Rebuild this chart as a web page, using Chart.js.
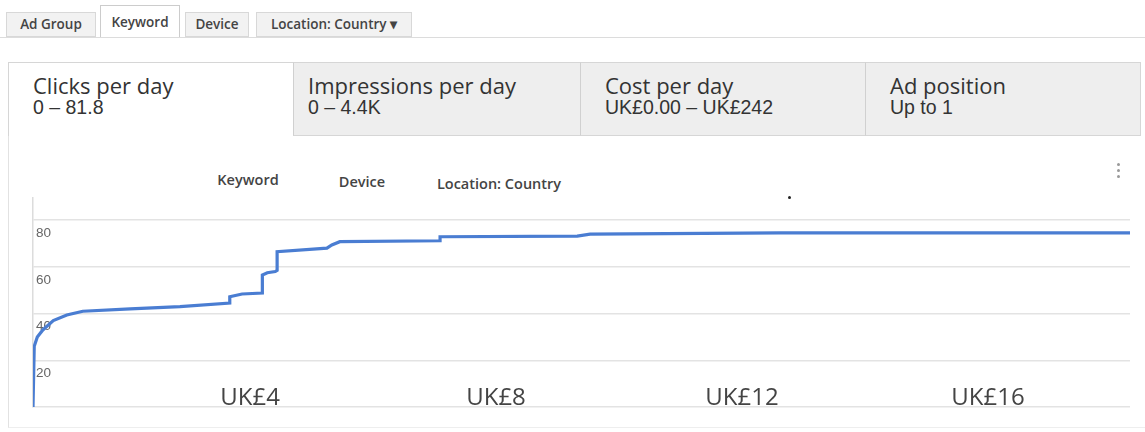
<!DOCTYPE html>
<html>
<head>
<meta charset="utf-8">
<script src="https://cdn.jsdelivr.net/npm/chart.js@4"></script>
<style>
  html, body { margin:0; padding:0; background:#fff; }
  body { width:1145px; height:432px; position:relative; overflow:hidden; font-family:"Open Sans", sans-serif; }
  .tab { position:absolute; top:12px; height:25px; background:#f2f2f2; border:1px solid #d8d8d8; box-sizing:border-box;
         font-size:13.5px; font-weight:600; color:#444; line-height:23px; text-align:center; white-space:nowrap; }
  .tab.sel { top:5px; height:33px; background:#fff; border-bottom:none; line-height:33px; border-color:#ccc; }
  #tabline { position:absolute; left:0; top:37px; width:1145px; height:1px; background:#dcdcdc; }
  #outer { position:absolute; left:8px; top:62px; width:1140px; height:366px; border-left:1px solid #e2e2e2; border-bottom:1px solid #eeeeee; box-sizing:border-box; }
  .mt { position:absolute; top:62px; height:74px; box-sizing:border-box; border-top:1px solid #d6d6d6; }
  .mt.g { background:#eeeeee; border-left:1px solid #d0d0d0; border-bottom:1px solid #d6d6d6; }
  .mt .t { position:absolute; left:14px; top:9px; font-family:"Open Sans", sans-serif; font-size:22px; color:#333; white-space:nowrap; line-height:26px; }
  .mt .s { position:absolute; left:14px; top:33px; font-family:"Liberation Sans", Arial, sans-serif; font-size:19.5px; color:#333; white-space:nowrap; line-height:22px; }
  .lbl { position:absolute; font-size:14.5px; font-weight:600; color:#444; transform:translateX(-50%); white-space:nowrap; }
  #chartbox { position:absolute; left:0; top:150px; width:1145px; height:275px; }
</style>
</head>
<body>
<div class="tab" style="left:6px;width:90px;">Ad Group</div>
<div class="tab sel" style="left:100px;width:80px;">Keyword</div>
<div class="tab" style="left:185px;width:64px;">Device</div>
<div class="tab" style="left:256px;width:156px;">Location: Country ▾</div>
<div id="tabline"></div>

<div id="outer"></div>
<div class="mt" style="left:8px;width:286px;background:#fff;border-left:1px solid #d6d6d6;"><div class="t" style="left:24px">Clicks per day</div><div class="s" style="left:24px">0 – 81.8</div></div>
<div class="mt g" style="left:293px;width:288px;"><div class="t">Impressions per day</div><div class="s">0 – 4.4K</div></div>
<div class="mt g" style="left:580px;width:286px;"><div class="t" style="left:24px">Cost per day</div><div class="s" style="left:24px">UK£0.00 – UK£242</div></div>
<div class="mt g" style="left:865px;width:276px;border-right:1px solid #d6d6d6;"><div class="t" style="left:24px">Ad position</div><div class="s" style="left:24px">Up to 1</div></div>

<div class="lbl" style="left:248px;top:170px;">Keyword</div>
<div class="lbl" style="left:362px;top:172px;">Device</div>
<div class="lbl" style="left:499px;top:174px;">Location: Country</div>
<div style="position:absolute;left:788px;top:196px;width:3px;height:3px;border-radius:50%;background:#222;"></div>
<div style="position:absolute;left:1117px;top:163px;width:3px;">
  <div style="width:3px;height:3px;border-radius:50%;background:#999;margin-bottom:3px;"></div>
  <div style="width:3px;height:3px;border-radius:50%;background:#999;margin-bottom:3px;"></div>
  <div style="width:3px;height:3px;border-radius:50%;background:#999;"></div>
</div>

<div id="chartbox"><canvas id="c"></canvas></div>

<script>
// Cost per click (UK£) on x, clicks per day on y
const costValues   = [0.47, 0.49, 0.54, 0.63, 0.80, 1.02, 1.28, 2.05, 2.86, 3.67, 3.67, 3.87, 4.20, 4.20, 4.28, 4.41, 4.44, 4.44, 5.25, 5.33, 5.46, 7.09, 7.09, 9.32, 9.53, 12.62, 18.31];
const clicksValues = [0,    26,   30,   33,   37,   39.4, 41,   42,   43,   44.5, 47.2, 48.4, 48.8, 56.5, 57.5, 58,   58.5, 66.5, 68.0, 69.4, 70.8, 71.2, 72.9, 73.2, 74.0, 74.6,  74.6];
const xTickValues = [4, 8, 12, 16];
const xTickLabels = ['UK£4', 'UK£8', 'UK£12', 'UK£16'];
const yTickValues = [0, 20, 40, 60, 80];
const yTickLabels = ['', '20', '40', '60', '80'];

const points = costValues.map((x, i) => ({ x: x, y: clicksValues[i] }));

new Chart(document.getElementById('c'), {
  type: 'line',
  data: {
    datasets: [{
      data: points,
      borderColor: '#4a7dd2',
      borderWidth: 3.2,
      pointRadius: 0,
      tension: 0,
      fill: false
    }]
  },
  options: {
    responsive: true,
    maintainAspectRatio: false,
    animation: false,
    layout: { padding: { left: 27, right: 15, top: 48, bottom: 18 } },
    plugins: { legend: { display: false }, tooltip: { enabled: false } },
    scales: {
      x: {
        type: 'linear',
        min: 0.47,
        max: 18.31,
        afterBuildTicks: s => { s.ticks = xTickValues.map(v => ({ value: v })); },
        afterFit: s => { s.height = 0; },
        grid: { display: false, drawTicks: false },
        border: { display: false },
        ticks: {
          mirror: true,
          padding: -6,
          maxRotation: 0,
          color: '#444',
          font: { family: 'Open Sans', size: 24 },
          callback: (v) => xTickLabels[xTickValues.indexOf(v)] ?? ''
        }
      },
      y: {
        min: 0,
        max: 89.5,
        afterBuildTicks: s => { s.ticks = yTickValues.map(v => ({ value: v })); },
        grid: { color: '#e3e3e3', lineWidth: 1.5, drawTicks: false },
        border: { display: true, color: '#dcdcdc', width: 1.5 },
        ticks: {
          mirror: true,
          padding: 3,
          labelOffset: 13,
          color: '#666',
          font: { family: 'Liberation Sans', size: 13.5 },
          callback: (v) => yTickLabels[yTickValues.indexOf(v)] ?? ''
        }
      }
    }
  }
});
</script>
</body>
</html>
